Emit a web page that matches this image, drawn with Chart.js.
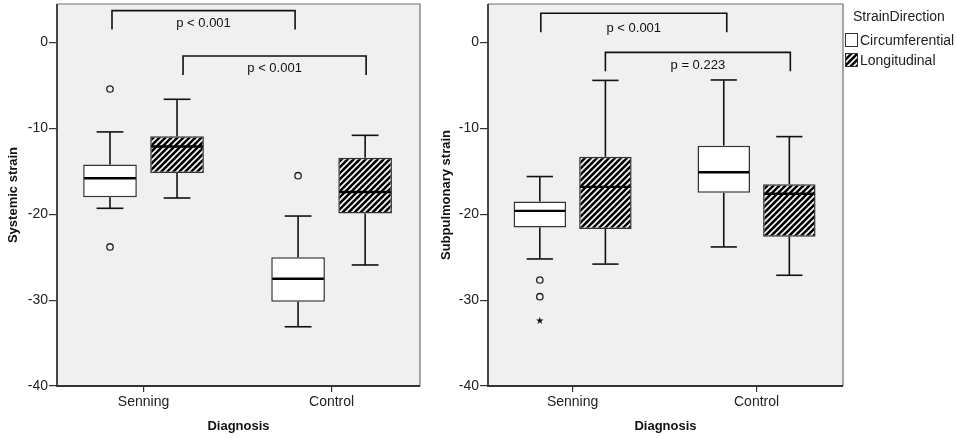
<!DOCTYPE html>
<html>
<head>
<meta charset="utf-8">
<script src="https://cdn.jsdelivr.net/npm/chart.js@4.4.1/dist/chart.umd.min.js"></script>
<style>
  body { margin: 0; background: #fff; }
  #left { position: absolute; left: 0; top: 0; }
  #right { position: absolute; left: 440px; top: 0; }
</style>
</head>
<body>
<canvas id="left" width="440" height="438"></canvas>
<canvas id="right" width="517" height="438"></canvas>
<script>
// categories and series
const categories = ["Senning", "Control"];
const seriesNames = ["Circumferential", "Longitudinal"];
const yTicks = [0, -10, -20, -30, -40];

// box stats per category: [min, q1, median, q3, max]
const sysCircum = [[-19.3, -18.0, -15.8, -14.2, -10.4], [-33.1, -30.2, -27.5, -25.0, -20.2]];
const sysLongit = [[-18.1, -15.2, -12.1, -10.9, -6.6], [-25.9, -19.9, -17.4, -13.4, -10.8]];
const sysCircumOutliers = [[-5.4, -23.8], [-15.5]];
const sysLongitOutliers = [[], []];

const subCircum = [[-25.2, -21.55, -19.6, -18.5, -15.6], [-23.8, -17.5, -15.1, -12.0, -4.35]];
const subLongit = [[-25.8, -21.7, -16.8, -13.3, -4.4], [-27.1, -22.6, -17.6, -16.5, -10.95]];
const subCircumOutliers = [[-27.65, -29.6], []];
const subCircumExtremes = [[-32.4], []];
const subLongitOutliers = [[], []];

const sysPLabels = ["p < 0.001", "p < 0.001"];
const subPLabels = ["p < 0.001", "p = 0.223"];

Chart.defaults.font.family = "'Liberation Sans', Arial, sans-serif";
Chart.defaults.color = "#222";

function hatch() {
  const c = document.createElement("canvas");
  c.width = 6; c.height = 6;
  const g = c.getContext("2d");
  g.fillStyle = "#000";
  g.fillRect(0, 0, 6, 6);
  g.strokeStyle = "#fff";
  g.lineWidth = 1.6;
  g.beginPath();
  g.moveTo(-1, 7); g.lineTo(7, -1);
  g.moveTo(-1, 1); g.lineTo(1, -1);
  g.moveTo(5, 7); g.lineTo(7, 5);
  g.stroke();
  return g.createPattern(c, "repeat");
}
const hatchFill = hatch();

function seg(ctx, x1, y1, x2, y2) {
  ctx.beginPath();
  ctx.moveTo(x1, y1);
  ctx.lineTo(x2, y2);
  ctx.stroke();
}

const plotFrame = {
  id: "plotFrame",
  beforeDatasetsDraw(chart) {
    const { ctx, chartArea: a } = chart;
    ctx.save();
    ctx.fillStyle = "#f0f0f0";
    ctx.fillRect(a.left, a.top, a.right - a.left, a.bottom - a.top);
    ctx.restore();
  },
  afterDraw(chart) {
    const { ctx, chartArea: a } = chart;
    ctx.save();
    ctx.strokeStyle = "#707070";
    ctx.lineWidth = 1.2;
    ctx.beginPath();
    ctx.moveTo(a.left, a.top);
    ctx.lineTo(a.right, a.top);
    ctx.lineTo(a.right, a.bottom);
    ctx.stroke();
    ctx.strokeStyle = "#333";
    ctx.lineWidth = 1.8;
    ctx.beginPath();
    ctx.moveTo(a.left, a.top);
    ctx.lineTo(a.left, a.bottom);
    ctx.lineTo(a.right, a.bottom);
    ctx.stroke();
    ctx.restore();
  }
};

const boxExtras = {
  id: "boxExtras",
  afterDatasetsDraw(chart, args, opts) {
    const ctx = chart.ctx;
    const ys = chart.scales.y;
    const py = v => ys.getPixelForValue(v);
    ctx.save();
    opts.stats.forEach((series, di) => {
      const meta = chart.getDatasetMeta(di);
      series.forEach((s, ci) => {
        const bar = meta.data[ci];
        const x = bar.x, w = bar.width;
        const [mn, q1, md, q3, mx] = s;
        ctx.strokeStyle = "#111";
        ctx.lineWidth = 1.6;
        seg(ctx, x, py(q3), x, py(mx));
        seg(ctx, x, py(q1), x, py(mn));
        seg(ctx, x - w / 4, py(mx), x + w / 4, py(mx));
        seg(ctx, x - w / 4, py(mn), x + w / 4, py(mn));
        ctx.strokeStyle = "#000";
        ctx.lineWidth = 2.4;
        seg(ctx, x - w / 2 + 1, py(md), x + w / 2 - 1, py(md));
      });
      (opts.outliers[di] || []).forEach((list, ci) => {
        const x = meta.data[ci].x;
        list.forEach(v => {
          ctx.strokeStyle = "#222";
          ctx.lineWidth = 1.3;
          ctx.beginPath();
          ctx.arc(x, py(v), 3.2, 0, Math.PI * 2);
          ctx.stroke();
        });
      });
      (opts.extremes[di] || []).forEach((list, ci) => {
        const x = meta.data[ci].x;
        list.forEach(v => {
          const cy = py(v);
          ctx.fillStyle = "#111";
          ctx.beginPath();
          for (let k = 0; k < 10; k++) {
            const r = k % 2 ? 1.5 : 4;
            const ang = -Math.PI / 2 + k * Math.PI / 5;
            ctx.lineTo(x + r * Math.cos(ang), cy + r * Math.sin(ang));
          }
          ctx.closePath();
          ctx.fill();
        });
      });
    });
    // significance brackets
    ctx.font = "13px 'Liberation Sans', Arial, sans-serif";
    ctx.textAlign = "center";
    ctx.textBaseline = "alphabetic";
    opts.brackets.forEach((b, i) => {
      const meta = chart.getDatasetMeta(b.series);
      const x1 = meta.data[0].x + b.shift[0], x2 = meta.data[1].x + b.shift[1];
      const top = py(b.level);
      ctx.strokeStyle = "#111";
      ctx.lineWidth = 1.6;
      ctx.beginPath();
      ctx.moveTo(x1, top + 19);
      ctx.lineTo(x1, top);
      ctx.lineTo(x2, top);
      ctx.lineTo(x2, top + 19);
      ctx.stroke();
      ctx.fillStyle = "#111";
      ctx.fillText(opts.labels[i], (x1 + x2) / 2, top + b.textOffset + 4.5);
    });
    ctx.restore();
  }
};

const sideLegend = {
  id: "sideLegend",
  afterDraw(chart, args, opts) {
    if (!opts.show) return;
    const ctx = chart.ctx;
    ctx.save();
    ctx.font = "14px 'Liberation Sans', Arial, sans-serif";
    ctx.textBaseline = "middle";
    ctx.textAlign = "left";
    ctx.fillStyle = "#222";
    ctx.fillText("StrainDirection", opts.x + 8, 17.5);
    chart.data.datasets.forEach((ds, i) => {
      const cy = 40 + i * 20;
      ctx.fillStyle = ds.backgroundColor;
      ctx.fillRect(opts.x, cy - 7, 13, 14);
      ctx.strokeStyle = "#333";
      ctx.lineWidth = 1;
      ctx.strokeRect(opts.x + 0.5, cy - 6.5, 12, 13);
      ctx.fillStyle = "#222";
      ctx.fillText(ds.label, opts.x + 15, cy + 1);
    });
    ctx.restore();
  }
};

function makeChart(id, circ, longi, outliers, extremes, labels, brackets, title, yAxisWidth, titlePad, rightPad, legendX) {
  const toBoxes = st => st.map((s, ci) => ({ x: ci, y: [s[1], s[3]] }));
  return new Chart(document.getElementById(id), {
    type: "bar",
    data: {
      datasets: [
        { label: seriesNames[0], data: toBoxes(circ), backgroundColor: "#ffffff" },
        { label: seriesNames[1], data: toBoxes(longi), backgroundColor: hatchFill }
      ]
    },
    options: {
      responsive: false,
      animation: false,
      layout: { padding: { top: 4, right: rightPad, left: 0, bottom: 0 } },
      datasets: {
        bar: {
          borderColor: "#333",
          borderWidth: 1.5,
          borderSkipped: false,
          categoryPercentage: 0.713,
          barPercentage: 0.8
        }
      },
      scales: {
        x: {
          type: "linear",
          offset: false,
          min: -0.46,
          max: 1.47,
          afterBuildTicks(s) { s.ticks = categories.map((c, i) => ({ value: i })); },
          grid: { offset: false, drawOnChartArea: false, tickLength: 6, color: "#333", lineWidth: 1.2 },
          border: { display: false },
          ticks: { padding: 2, font: { size: 14 }, color: "#222", callback: v => categories[v] },
          title: { display: true, text: "Diagnosis", font: { size: 13, weight: "bold" }, color: "#111", padding: { top: 0, bottom: 4 } },
          afterFit(s) { s.height = 52; s.paddingLeft = 0; s.paddingRight = 0; }
        },
        y: {
          min: -40,
          max: 4.5,
          afterBuildTicks(s) { s.ticks = yTicks.map(v => ({ value: v })); },
          grid: { drawOnChartArea: false, tickLength: 8, color: "#333", lineWidth: 1.2 },
          border: { display: false },
          ticks: { padding: 1, font: { size: 14 }, color: "#222" },
          title: { display: true, text: title, font: { size: 13, weight: "bold", lineHeight: 1 }, color: "#111", padding: { top: titlePad, bottom: 0 } },
          afterFit(s) { s.width = yAxisWidth; s.paddingTop = 0; s.paddingBottom = 0; }
        }
      },
      plugins: {
        legend: { display: false },
        tooltip: { enabled: false },
        boxExtras: { stats: [circ, longi], outliers, extremes, labels, brackets },
        sideLegend: { show: legendX > 0, x: legendX }
      }
    },
    plugins: [plotFrame, boxExtras, sideLegend]
  });
}

makeChart("left", sysCircum, sysLongit, [sysCircumOutliers, sysLongitOutliers], [[], []], sysPLabels,
  [{ series: 0, level: 3.73, textOffset: 12, shift: [2, -3] }, { series: 1, level: -1.55, textOffset: 12, shift: [6, 1] }],
  "Systemic strain", 57, 7, 20, 0);

makeChart("right", subCircum, subLongit, [subCircumOutliers, subLongitOutliers], [subCircumExtremes, []], subPLabels,
  [{ series: 0, level: 3.42, textOffset: 14, shift: [1, 3] }, { series: 1, level: -1.13, textOffset: 12, shift: [0, 1] }],
  "Subpulmonary strain", 48, 0, 114, 405);
</script>
</body>
</html>
